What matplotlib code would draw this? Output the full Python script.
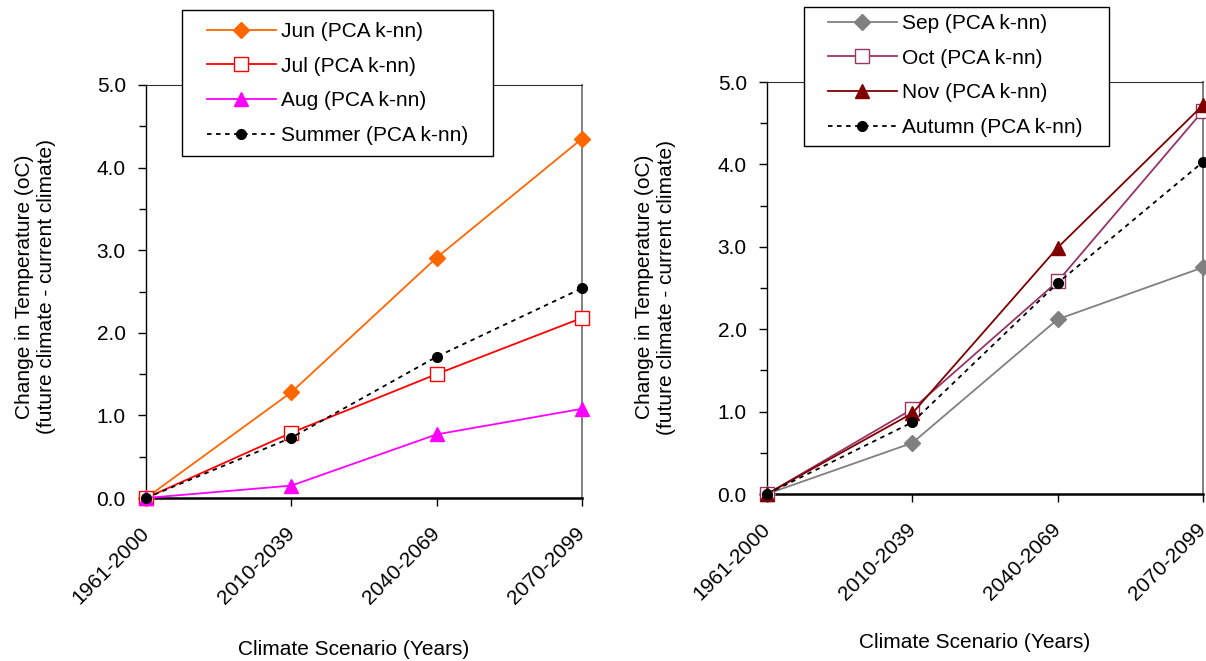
import matplotlib
matplotlib.use("Agg")
import matplotlib.pyplot as plt
from matplotlib.patches import Rectangle
from matplotlib.ticker import MultipleLocator

plt.rcParams['font.family'] = ['Liberation Sans', 'DejaVu Sans']
plt.rcParams['font.size'] = 15

W, H = 1206, 661

scenarios = ['1961-2000', '2010-2039', '2040-2069', '2070-2099']

# summer months
jun = [0.0, 1.28, 2.91, 4.35]
jul = [0.0, 0.79, 1.50, 2.18]
aug = [0.0, 0.15, 0.77, 1.08]
summer = [0.0, 0.73, 1.71, 2.54]

# autumn months
sep = [0.0, 0.62, 2.12, 2.75]
oct_ = [0.0, 1.03, 2.58, 4.65]
nov = [0.0, 0.98, 2.99, 4.72]
autumn = [0.0, 0.87, 2.56, 4.03]

dotted = (0, (2.5, 2.5))
summer_series = [
    ('Jun (PCA k-nn)', jun, dict(color='#FF6600', marker='D', ms=8, mfc='#FF6600', mec='#FF6600', ls='-')),
    ('Jul (PCA k-nn)', jul, dict(color='#FF0000', marker='s', ms=10, mfc='white', mec='#FF0000', ls='-')),
    ('Aug (PCA k-nn)', aug, dict(color='#FF00FF', marker='^', ms=10, mfc='#FF00FF', mec='#FF00FF', ls='-')),
    ('Summer (PCA k-nn)', summer, dict(color='black', marker='o', ms=7, mfc='black', mec='black', ls=dotted)),
]
autumn_series = [
    ('Sep (PCA k-nn)', sep, dict(color='#808080', marker='D', ms=8, mfc='#808080', mec='#808080', ls='-')),
    ('Oct (PCA k-nn)', oct_, dict(color='#993366', marker='s', ms=10, mfc='white', mec='#993366', ls='-')),
    ('Nov (PCA k-nn)', nov, dict(color='#800000', marker='^', ms=10, mfc='#800000', mec='#800000', ls='-')),
    ('Autumn (PCA k-nn)', autumn, dict(color='black', marker='o', ms=7, mfc='black', mec='black', ls=dotted)),
]

fig = plt.figure(figsize=(W / 100, H / 100), dpi=100)


def px_axes(x0, x1, y_top, y_bot):
    # axes rectangle given in pixel coordinates measured from the top-left corner
    return fig.add_axes([x0 / W, 1 - y_bot / H, (x1 - x0) / W, (y_bot - y_top) / H])


def draw_panel(ax, series, ylabel_xy, xlabel_xy, box, legend_xy):
    x = range(len(scenarios))
    for label, values, style in series:
        ax.plot(x, values, label=label, lw=1.3, clip_on=False, zorder=3, **style)
    ax.set_xlim(0, len(scenarios) - 1)
    ax.set_ylim(0, 5)
    ax.yaxis.set_major_locator(MultipleLocator(1.0))
    ax.yaxis.set_minor_locator(MultipleLocator(0.5))
    ax.yaxis.set_major_formatter('{x:.1f}')
    ax.set_xticks(list(x))
    ax.set_xticklabels(scenarios, rotation=45, ha='right', va='center', rotation_mode='anchor')
    ax.tick_params(axis='both', which='major', direction='out', length=6, width=1, labelsize=15)
    ax.tick_params(axis='y', which='minor', direction='out', length=5, width=1)
    ax.tick_params(axis='y', pad=8.5)
    ax.tick_params(axis='x', pad=17.5)
    ax.spines['bottom'].set_linewidth(1.8)
    ax.spines['left'].set_linewidth(1.0)
    ax.spines['top'].set_color('#303030')
    ax.spines['right'].set_color('#808080')
    ax.spines['right'].set_linewidth(1.4)

    ax.set_xlabel('Climate Scenario (Years)', fontsize=15)
    ax.xaxis.set_label_coords(*xlabel_xy)
    ax.set_ylabel('Change in Temperature (oC)\n(future climate - current climate)',
                  fontsize=15, linespacing=1.2)
    ax.yaxis.set_label_coords(*ylabel_xy)

    # legend frame sits across the top edge of the plot area
    bx0, by0, bx1, by1 = box
    fig.add_artist(Rectangle((bx0 / W, 1 - by1 / H), (bx1 - bx0) / W, (by1 - by0) / H,
                             transform=fig.transFigure, facecolor='white',
                             edgecolor='black', lw=1.0, zorder=4))
    handles, labels = ax.get_legend_handles_labels()
    leg = fig.legend(handles, labels, loc='upper left',
                     bbox_to_anchor=(legend_xy[0] / W, 1 - legend_xy[1] / H),
                     bbox_transform=fig.transFigure, frameon=False, fontsize=15,
                     handlelength=3.3, handletextpad=0.27, labelspacing=0.755,
                     borderpad=0, borderaxespad=0)
    leg.set_zorder(5)


ax1 = px_axes(146, 582, 85, 498)
ax2 = px_axes(767, 1203, 82, 494)

draw_panel(ax1, summer_series, (-0.206, 0.511), (0.477, -0.344),
           (182, 10, 493, 156), (207, 22))
draw_panel(ax2, autumn_series, (-0.209, 0.502), (0.477, -0.337),
           (804, 7, 1109, 146), (828, 14))

fig.savefig('out.png', dpi=100)
